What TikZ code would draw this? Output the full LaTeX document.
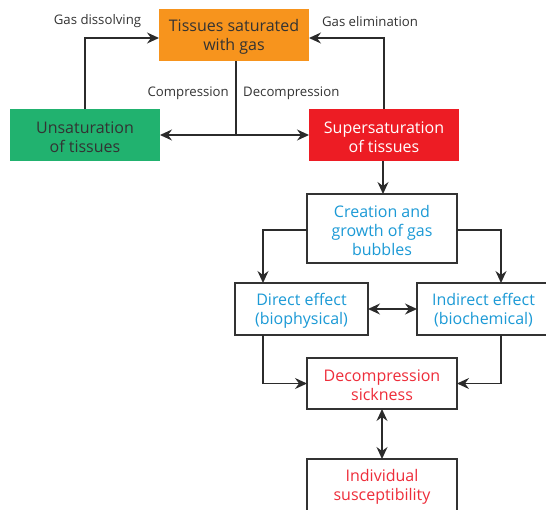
\documentclass[tikz,border=0pt]{standalone}
\usepackage{fontspec}
\setmainfont{Open Sans}
\usetikzlibrary{arrows.meta}
\definecolor{orng}{HTML}{F7941D}
\definecolor{grn}{HTML}{21B26F}
\definecolor{rd}{HTML}{ED1C24}
\definecolor{blu}{HTML}{1C9AD6}
\definecolor{rtxt}{HTML}{EE2D3A}
\definecolor{dk}{HTML}{333333}
\definecolor{ln}{HTML}{2B2B2B}
\newcommand{\topstrut}{\rule{0pt}{15.5pt}}
\begin{document}
\begin{tikzpicture}[x=1pt,y=-1pt,
  box/.style={inner sep=0pt,outer sep=0pt,align=center,font=\fontsize{16}{19}\selectfont},
  filled/.style={box,minimum width=150pt,minimum height=52pt},
  outl/.style={box,draw=dk,line width=1.3pt,fill=white},
  lbl/.style={inner sep=0pt,font=\fontsize{13.2}{15}\selectfont,text=dk},
  arr/.style={draw=ln,line width=1.3pt,-{Stealth[length=12pt,width=11pt,inset=4pt]}},
  darr/.style={draw=ln,line width=1.3pt,{Stealth[length=12pt,width=11pt,inset=4pt]}-{Stealth[length=12pt,width=11pt,inset=4pt]}},
  pln/.style={draw=ln,line width=1.3pt}]
\useasboundingbox (0,0) rectangle (546,509);
\clip (0,0) rectangle (546,509);
\node[filled,fill=orng,text=dk] (tis) at (234,35) {\topstrut Tissues saturated\\with gas};
\node[filled,fill=grn,text=dk] (uns) at (85,135) {\topstrut Unsaturation\\of tissues};
\node[filled,fill=rd,text=white] (sup) at (384,135) {\topstrut Supersaturation\\of tissues};
\node[outl,minimum width=150pt,minimum height=69pt,text=blu] (cre) at (382,228.5) {\topstrut Creation and\\growth of gas\\bubbles};
\node[outl,minimum width=133pt,minimum height=52pt,text=blu] (dir) at (301.5,309) {\topstrut Direct effect\\(biophysical)};
\node[outl,minimum width=133pt,minimum height=52pt,text=blu] (ind) at (483.5,309) {\topstrut Indirect effect\\(biochemical)};
\node[outl,minimum width=150pt,minimum height=51pt,text=rtxt] (dcs) at (382,383.5) {\topstrut Decompression\\sickness};
\node[outl,minimum width=150pt,minimum height=52pt,text=rtxt] (isu) at (382,485) {\topstrut Individual\\susceptibility};
\coordinate (dl) at (263,0);
\coordinate (dr) at (501,0);
\coordinate (jt) at ([xshift=2pt]tis.south);
\coordinate (jn) at (jt |- uns.east);
% labels
\node[lbl] (gd) at (97.5,21.5) {Gas dissolving};
\node[lbl] (ge) at (370,21.5) {Gas elimination};
\node[lbl,anchor=east] (cp) at (229,93) {Compression};
\node[lbl,anchor=west] (dp) at (243,93) {Decompression};
% connectors
\draw[arr] (uns.north) |- ([yshift=-3pt]tis.west);
\draw[arr] (sup.north) |- ([yshift=-3pt]tis.east);
\draw[pln] (jt) -- (jn);
\draw[arr] (jn) -- (uns.east);
\draw[arr] (jn) -- (sup.west);
\draw[arr] ([xshift=-1pt]sup.south) -- ([xshift=-1pt]sup.south |- cre.north);
\draw[arr] ([yshift=-1.5pt]cre.west) -| (dl |- dir.north);
\draw[arr] ([yshift=-1.5pt]cre.east) -| (dr |- ind.north);
\draw[darr] (dir.east) -- (ind.west);
\draw[arr] (dl |- dir.south) |- (dcs.west);
\draw[arr] (dr |- ind.south) |- (dcs.east);
\draw[darr] (dcs.south) -- (isu.north);
\end{tikzpicture}
\end{document}
